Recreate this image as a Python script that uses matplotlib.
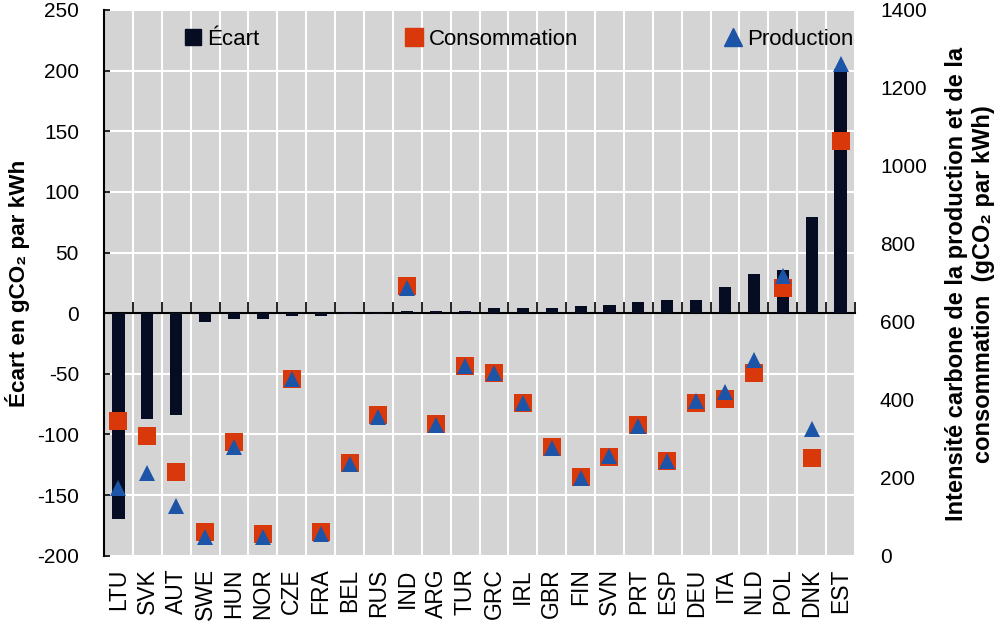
import matplotlib
matplotlib.use("Agg")
import matplotlib.pyplot as plt
import numpy as np
from matplotlib.lines import Line2D

################################
# data
################################

countries = ["LTU", "SVK", "AUT", "SWE", "HUN", "NOR", "CZE", "FRA", "BEL", "RUS",
             "IND", "ARG", "TUR", "GRC", "IRL", "GBR", "FIN", "SVN", "PRT", "ESP",
             "DEU", "ITA", "NLD", "POL", "DNK", "EST"]
ecart = [-170, -87, -84, -7, -5, -5, -2, -2, -0.5, -0.3,
         2, 2, 2, 4, 4, 4, 6, 7, 9, 11,
         11, 22, 32, 36, 79, 201]
consommation = [346, 306, 216, 60, 293, 56, 454, 60, 238, 360,
                692, 338, 486, 470, 391, 278, 201, 253, 336, 242,
                391, 403, 468, 686, 252, 1064]
production = [174, 212, 128, 49, 280, 49, 454, 57, 236, 355,
              688, 336, 486, 470, 392, 277, 200, 255, 333, 243,
              396, 420, 501, 718, 325, 1262]

left_ticks = [-200, -150, -100, -50, 0, 50, 100, 150, 200, 250]
right_ticks = [0, 200, 400, 600, 800, 1000, 1200, 1400]

bar_color = "#060c22"
cons_color = "#d9380b"
prod_color = "#1c54a8"
bg_color = "#d4d4d4"

plt.rcParams["font.family"] = ["Liberation Sans", "DejaVu Sans"]
plt.rcParams["axes.unicode_minus"] = False

################################
# figure
################################

fig = plt.figure(figsize=(10, 6.21), dpi=100)
ax = fig.add_axes([0.104, 0.105, 0.751, 0.879])
ax2 = ax.twinx()

x = np.arange(len(countries))
ax.set_facecolor(bg_color)
ax.set_axisbelow(True)
ax.bar(x, ecart, width=0.42, color=bar_color, zorder=3)

ax2.plot(x, consommation, linestyle="", marker="s", markersize=13,
         color=cons_color, markeredgewidth=0, zorder=4)
ax2.plot(x, production, linestyle="", marker="^", markersize=12,
         color=prod_color, markeredgewidth=0, zorder=5)

# left axis
ax.set_xlim(-0.5, len(countries) - 0.5)
ax.set_ylim(-200, 250)
ax.set_yticks(left_ticks)
ax.tick_params(axis="y", direction="in", length=4, width=1.2, labelsize=15, pad=18)
ax.grid(axis="y", color="white", linewidth=1.5)

# category boundaries: white vertical grid + small ticks on the zero line
ax.set_xticks(x)
ax.set_xticks(np.arange(len(countries) + 1) - 0.5, minor=True)
ax.grid(axis="x", which="minor", color="white", linewidth=1.5)
ax.tick_params(axis="x", which="major", length=0, labelbottom=False)
ax.tick_params(axis="x", which="minor", direction="in", length=8, width=1.2)
ax.spines["bottom"].set_position(("data", 0))
ax.spines["bottom"].set_linewidth(1.5)
ax.spines["left"].set_linewidth(1.5)
for s in ["top", "right"]:
    ax.spines[s].set_visible(False)

# country labels at the bottom of the plot area
sec = ax.secondary_xaxis("bottom")
sec.set_xticks(x)
sec.set_xticklabels(countries, rotation=90, fontsize=16.5)
sec.tick_params(length=0, pad=9)
sec.spines["bottom"].set_visible(False)

# right axis
ax2.set_ylim(0, 1400)
ax2.set_yticks(right_ticks)
ax2.tick_params(axis="y", length=0, labelsize=15, pad=18)
for s in ax2.spines.values():
    s.set_visible(False)

fig.text(0.018, 0.543, "Écart en gCO₂ par kWh", rotation=90, ha="center",
         va="center", fontsize=16.2, fontweight="bold")
fig.text(0.970, 0.543,
         "Intensité carbone de la production et de la\nconsommation  (gCO₂ par kWh)",
         rotation=90, ha="center", va="center", multialignment="center",
         fontsize=17, fontweight="bold", linespacing=1.25)

handles = [
    Line2D([], [], linestyle="", marker="s", markersize=11, color=bar_color),
    Line2D([], [], linestyle="", marker="s", markersize=13, color=cons_color),
    Line2D([], [], linestyle="", marker="^", markersize=13, color=prod_color),
]
ax.legend(handles, ["Écart", "Consommation", "Production"], ncol=3,
          loc="upper left", bbox_to_anchor=(0.096, 0.982), frameon=False,
          fontsize=16, handlelength=0.7, handletextpad=0.3,
          columnspacing=6.62, borderaxespad=0)

fig.savefig("out.png", dpi=100)
